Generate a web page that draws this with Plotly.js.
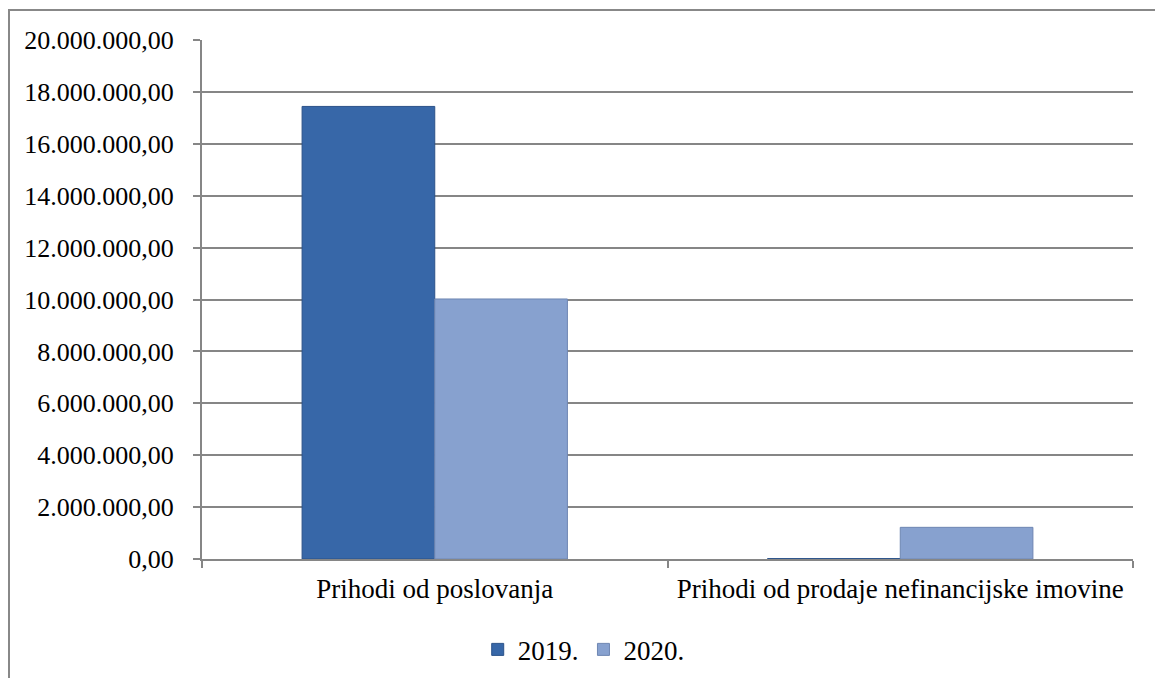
<!DOCTYPE html>
<html>
<head>
<meta charset="utf-8">
<script src="https://cdn.plot.ly/plotly-3.0.1.min.js"></script>
<style>
html,body{margin:0;padding:0;background:#fff;}
#chart{width:1155px;height:678px;}
</style>
</head>
<body>
<div id="chart"></div>
<script>
var categories = ["Prihodi od poslovanja", "Prihodi od prodaje nefinancijske imovine"];
var seriesNames = ["2019.", "2020."];
var values2019 = [17440000, 15000];
var values2020 = [10020000, 1220000];
var yTickVals = [0, 2000000, 4000000, 6000000, 8000000, 10000000, 12000000, 14000000, 16000000, 18000000, 20000000];
var yTickText = ["0,00", "2.000.000,00", "4.000.000,00", "6.000.000,00", "8.000.000,00", "10.000.000,00", "12.000.000,00", "14.000.000,00", "16.000.000,00", "18.000.000,00", "20.000.000,00"];

var font = {family: "Liberation Serif", size: 26, color: "#000"};
var fontBig = {family: "Liberation Serif", size: 27, color: "#000"};

var traces = [
  {
    type: "bar", name: seriesNames[0], x: categories, y: values2019,
    marker: {color: "#3767A8", line: {color: "#2B5289", width: 1}},
    hoverinfo: "skip"
  },
  {
    type: "bar", name: seriesNames[1], x: categories, y: values2020,
    marker: {color: "#87A1CF", line: {color: "#6E86B2", width: 1}},
    hoverinfo: "skip"
  }
];

var layout = {
  width: 1155, height: 678,
  margin: {l: 202, r: 22, t: 40, b: 119, pad: 0, autoexpand: false},
  paper_bgcolor: "#fff", plot_bgcolor: "#fff",
  font: font,
  barmode: "group",
  bargap: 0.43,
  bargroupgap: 0,
  showlegend: true,
  legend: {
    orientation: "h", x: 0.41, xanchor: "center", y: -0.175, yanchor: "middle",
    font: fontBig, itemwidth: 30, tracegroupgap: 0
  },
  xaxis: {
    type: "category",
    showline: true, linecolor: "#868686", linewidth: 2,
    ticks: "outside", tickson: "boundaries", ticklen: 7, tickcolor: "#868686", tickwidth: 2,
    showgrid: false, zeroline: false,
    tickfont: fontBig, ticklabelstandoff: 5, fixedrange: true
  },
  yaxis: {
    range: [0, 20000000],
    tickvals: yTickVals, ticktext: yTickText,
    showline: true, linecolor: "#868686", linewidth: 2,
    ticks: "outside", ticklen: 7, tickcolor: "#868686", tickwidth: 2,
    showgrid: true, gridcolor: "#868686", gridwidth: 2,
    zeroline: false,
    tickfont: font, ticklabelstandoff: 14, fixedrange: true
  },
  shapes: [
    {type: "rect", xref: "paper", yref: "paper", x0: -0.2073, x1: 1.03, y0: -0.3, y1: 1.0578,
     line: {color: "#888888", width: 2}, fillcolor: "rgba(0,0,0,0)", layer: "below"}
  ]
};

Plotly.newPlot("chart", traces, layout, {staticPlot: true, displayModeBar: false});
</script>
</body>
</html>
